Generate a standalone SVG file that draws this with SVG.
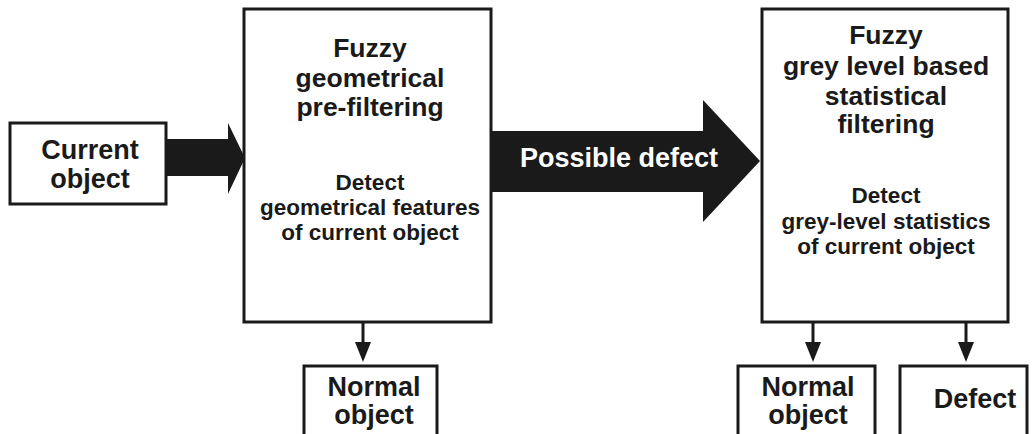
<svg xmlns="http://www.w3.org/2000/svg" width="1032" height="434" viewBox="0 0 1032 434">
<defs>
<style>
.box{fill:#fff;stroke:#1a1a1a;stroke-width:3}
.t{font-family:"Liberation Sans",Arial,sans-serif;font-weight:bold;fill:#1a1a1a;text-anchor:middle}
.title{font-size:26.5px}
.sub{font-size:22.5px}
.lbl{font-size:27px}
.big{fill:#1a1a1a}
.line{stroke:#1a1a1a;stroke-width:3;fill:none}
</style>
</defs>
<rect width="1032" height="434" fill="#fff"/>
<g id="connectors">
<path class="big" d="M166,139 H228 V123 L245,158 L228,194 V176 H166 Z"/>
<path class="big" d="M491,131 H703 V100 L760,161 L703,222 V192 H491 Z"/>
<text class="t" x="619" y="167" font-size="27" style="fill:#fff">Possible defect</text>
<line class="line" x1="363" y1="322" x2="363" y2="344"/>
<path class="big" d="M355,342 H371 L363,362 Z"/>
<line class="line" x1="813" y1="322" x2="813" y2="344"/>
<path class="big" d="M805,342 H821 L813,362 Z"/>
<line class="line" x1="966" y1="322" x2="966" y2="344"/>
<path class="big" d="M958,342 H974 L966,362 Z"/>
</g>
<g id="current-object">
<rect class="box" x="10" y="123" width="156" height="81"/>
<text class="t lbl" x="90" y="159">Current</text>
<text class="t lbl" x="90" y="188">object</text>
</g>
<g id="geometrical-prefiltering">
<rect class="box" x="244" y="9" width="247" height="313"/>
<text class="t title" x="370" y="57">Fuzzy</text>
<text class="t title" x="370" y="87">geometrical</text>
<text class="t title" x="370" y="116">pre-filtering</text>
<text class="t sub" x="370" y="190">Detect</text>
<text class="t sub" x="370" y="215">geometrical features</text>
<text class="t sub" x="370" y="240">of current object</text>
</g>
<g id="statistical-filtering">
<rect class="box" x="762" y="9" width="246" height="313"/>
<text class="t title" x="886" y="44">Fuzzy</text>
<text class="t title" x="886" y="75">grey level based</text>
<text class="t title" x="886" y="105">statistical</text>
<text class="t title" x="886" y="133">filtering</text>
<text class="t sub" x="886" y="203">Detect</text>
<text class="t sub" x="886" y="229">grey-level statistics</text>
<text class="t sub" x="886" y="254">of current object</text>
</g>
<g id="normal-object-1">
<rect class="box" x="304" y="366" width="133" height="80"/>
<text class="t lbl" x="374" y="396">Normal</text>
<text class="t lbl" x="374" y="424">object</text>
</g>
<g id="normal-object-2">
<rect class="box" x="738" y="366" width="137" height="80"/>
<text class="t lbl" x="808" y="396">Normal</text>
<text class="t lbl" x="808" y="424">object</text>
</g>
<g id="defect">
<rect class="box" x="900" y="366" width="127" height="80"/>
<text class="t lbl" x="975" y="408">Defect</text>
</g>
</svg>
